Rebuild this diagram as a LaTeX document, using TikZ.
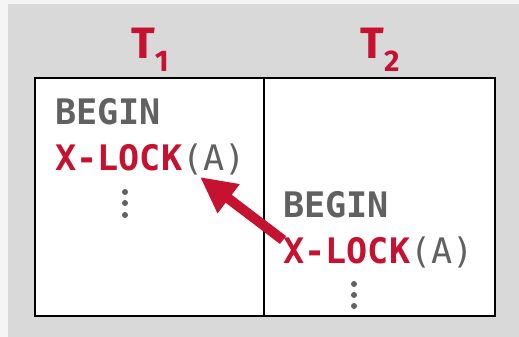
\documentclass[tikz,border=0pt]{standalone}
\usepackage{fontspec}
\setmonofont{DejaVu Sans Mono}
\setsansfont{Fira Sans}
\usetikzlibrary{arrows.meta}
\definecolor{lockred}{HTML}{C41230}
\definecolor{codegray}{HTML}{616161}
\definecolor{backgray}{HTML}{D9D9D9}
\definecolor{paper}{HTML}{F5F5F5}
\newcommand{\xlock}{{\color{lockred}\bfseries X-LOCK}{\mdseries(A)}}
\begin{document}
\begin{tikzpicture}[x=0.02cm,y=-0.02cm,
  code/.style={anchor=base west,inner sep=0pt,text=codegray,
    font=\ttfamily\bfseries\fontsize{20}{20}\selectfont},
  txn/.style={inner sep=0pt,text=lockred,
    font=\sffamily\bfseries\fontsize{25}{25}\selectfont},
  dot/.style={fill=codegray,draw=none,circle,inner sep=0pt,minimum size=0.12cm},
  wait/.style={-{Triangle[length=0.72cm,width=0.68cm]},line width=0.2cm,draw=lockred}]
\useasboundingbox (0,0) rectangle (519,337);
\fill[paper] (0,0) rectangle (519,337);
\fill[backgray] (8,4) rectangle (519,337);
% schedule table
\draw[fill=white,line width=1.1pt] (35,78) rectangle (495,316);
\draw[line width=0.8pt] (264,78) -- (264,316);
\node[txn] (T1) at (150,50) {T\raisebox{-0.3em}{\fontsize{17}{17}\selectfont 1}};
\node[txn] (T2) at (380,50) {T\raisebox{-0.3em}{\fontsize{17}{17}\selectfont 2}};
% T1
\node[code] (begin1) at (55,125) {BEGIN};
\node[code] (lock1) at (55,171) {\xlock};
\foreach \y in {192,203,215} \node[dot] at (125,\y) {};
% T2
\node[code] (begin2) at (283,217) {BEGIN};
\node[code] (lock2) at (283,263) {\xlock};
\foreach \y in {284,295,306} \node[dot] at (354,\y) {};
% waits-for
\coordinate (held) at (200,177);
\coordinate (want) at (283,240);
\draw[wait] (want) -- (held);
\end{tikzpicture}
\end{document}
